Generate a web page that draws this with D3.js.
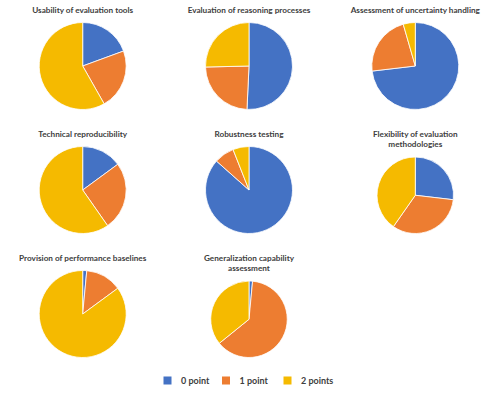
<!DOCTYPE html>
<html>
<head>
<meta charset="utf-8">
<script src="https://cdn.jsdelivr.net/npm/d3@7"></script>
<style>
  body { margin: 0; background: #fff; }
  text { font-family: Lato, "Open Sans", sans-serif; fill: #404040; }
</style>
</head>
<body>
<div class="container"></div>
<script>
// categories / series
var categories = ["0 point", "1 point", "2 points"];
var colors = ["#4472C4", "#ED7D31", "#F5BA00"];

var titles = [
  ["Usability of evaluation tools"],
  ["Evaluation of reasoning processes"],
  ["Assessment of uncertainty handling"],
  ["Technical reproducibility"],
  ["Robustness testing"],
  ["Flexibility of evaluation", "methodologies"],
  ["Provision of performance baselines"],
  ["Generalization capability", "assessment"]
];

// counts per score (0, 1, 2)
var zeroPoint = [13, 34, 49, 10, 58, 18, 1, 1];
var onePoint  = [15, 16, 15, 17, 5, 22, 9, 42];
var twoPoints = [39, 17, 3, 40, 4, 27, 57, 24];

var width = 498, height = 394;
var colX = [82.7, 249, 415.3];
var rowTitleY = [10, 134, 258];
var rowBottom = [109.5, 233.5, 357.5];
var lineH = 10.5;

var color = d3.scaleOrdinal().domain(categories).range(colors);

var svg = d3.select(".container")
    .append("svg")
    .attr("width", width)
    .attr("height", height);

var pie = d3.pie().sort(null).value(function(d) { return d.value; });

titles.forEach(function(t, i) {
  var col = i % 3, row = Math.floor(i / 3);
  var cx = colX[col];
  var ty = rowTitleY[row];

  var g = svg.append("g");

  g.selectAll("text.title")
      .data(t)
      .enter().append("text")
      .attr("class", "title")
      .attr("x", cx)
      .attr("y", function(d, k) { return ty + k * lineH; })
      .attr("dy", "0.35em")
      .attr("text-anchor", "middle")
      .style("font-size", "8.2px")
      .style("font-weight", "bold")
      .text(function(d) { return d; });

  var top = ty + (t.length - 1) * lineH + 12.5;
  var r = (rowBottom[row] - top) / 2;
  var cy = top + r;

  var data = categories.map(function(c, k) {
    return {cat: c, value: [zeroPoint, onePoint, twoPoints][k][i]};
  });

  var arc = d3.arc().innerRadius(0).outerRadius(r);

  g.append("g")
      .attr("transform", "translate(" + cx + "," + cy + ")")
      .selectAll("path")
      .data(pie(data))
      .enter().append("path")
      .attr("d", arc)
      .attr("fill", function(d) { return color(d.data.cat); })
      .attr("stroke", "#fff")
      .attr("stroke-width", 0.8);
});

// legend
var legendX = [163.5, 222, 283.5];
var legend = svg.append("g").attr("transform", "translate(0,380.5)");
categories.forEach(function(c, k) {
  legend.append("rect")
      .attr("x", legendX[k])
      .attr("y", -4)
      .attr("width", 8)
      .attr("height", 8)
      .attr("fill", color(c));
  legend.append("text")
      .attr("x", legendX[k] + 17.5)
      .attr("y", 0)
      .attr("dy", "0.35em")
      .style("font-size", "9px")
      .style("font-weight", "bold")
      .text(c);
});
</script>
</body>
</html>
